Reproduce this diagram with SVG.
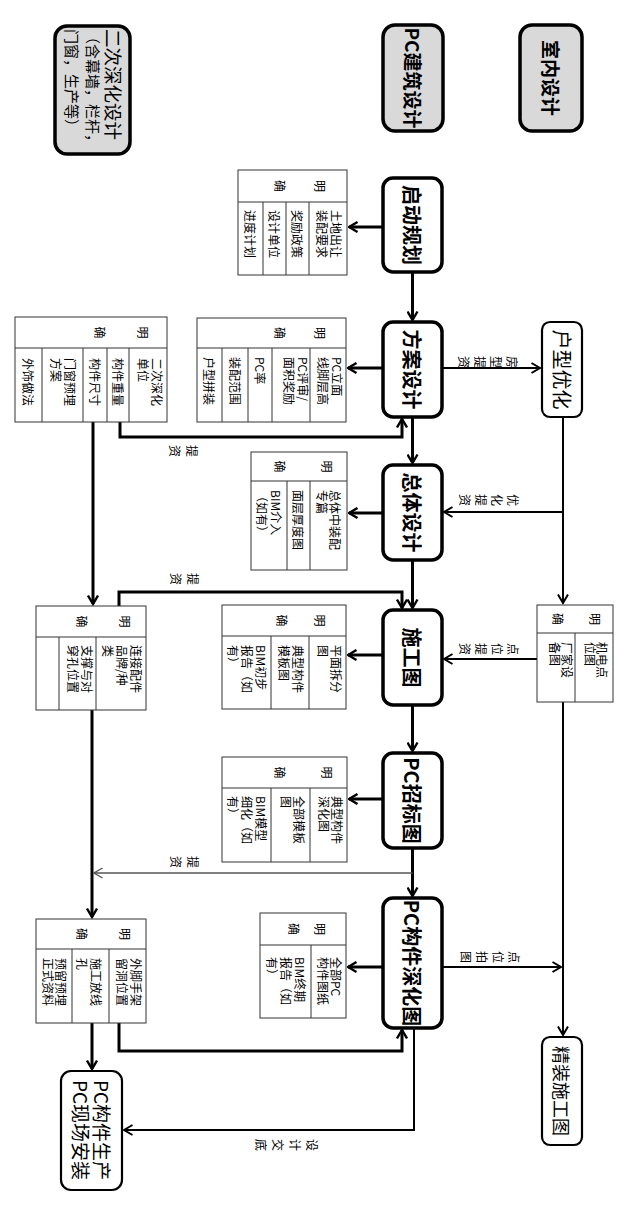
<svg xmlns="http://www.w3.org/2000/svg" width="627" height="1209" viewBox="0 0 627 1209">
<style>
text{font-family:"Noto Sans CJK SC","Noto Sans",sans-serif;dominant-baseline:central;fill:#000}
.box{fill:#fff;stroke:#000;stroke-width:3.5}
.gbox{fill:#d9d9d9;stroke:#000;stroke-width:3.5}
.tbox{fill:#fff;stroke:#000;stroke-width:2.2}
.tbl{fill:#fff;stroke:#333;stroke-width:1}
.tl{stroke:#333;stroke-width:1;fill:none}
.c{stroke:#000;stroke-width:3;fill:none}
.c2{stroke:#000;stroke-width:2;fill:none}
.c1{stroke:#555;stroke-width:1.3;fill:none}
.mb{font-size:20px;font-weight:bold;text-anchor:middle}
.hb{font-size:19px;font-weight:bold;text-anchor:middle}
.nb{font-size:19px;text-anchor:middle}
.t{font-size:12px}
.h{font-size:12px;text-anchor:middle}
.lb{font-size:12px;text-anchor:middle}
</style>
<defs>
<marker id="a" viewBox="0 0 12 12" refX="10.5" refY="6" markerWidth="12" markerHeight="12" markerUnits="userSpaceOnUse" orient="auto"><path d="M2,1 L10.5,6 L2,11" fill="none" stroke="#000" stroke-width="2.4"/></marker>
<marker id="a2" viewBox="0 0 12 12" refX="10.5" refY="6" markerWidth="12" markerHeight="12" markerUnits="userSpaceOnUse" orient="auto"><path d="M2,1 L10.5,6 L2,11" fill="none" stroke="#000" stroke-width="2"/></marker>
<marker id="a1" viewBox="0 0 12 12" refX="10.5" refY="6" markerWidth="12" markerHeight="12" markerUnits="userSpaceOnUse" orient="auto"><path d="M2,1 L10.5,6 L2,11" fill="none" stroke="#555" stroke-width="1.4"/></marker>
</defs>

<g id="connectors">
<path class="c" d="M412.5,272 V320" marker-end="url(#a)"/>
<path class="c" d="M412.5,417 V463" marker-end="url(#a)"/>
<path class="c" d="M412.5,560 V608" marker-end="url(#a)"/>
<path class="c" d="M412.5,705 V751" marker-end="url(#a)"/>
<path class="c" d="M412.5,848 V896" marker-end="url(#a)"/>
<path class="c2" d="M414,1028 V1130 H124" marker-end="url(#a2)"/>
<path class="c" d="M383,227 H349" marker-end="url(#a)"/>
<path class="c" d="M383,368 H348" marker-end="url(#a)"/>
<path class="c" d="M383,513 H349" marker-end="url(#a)"/>
<path class="c" d="M383,655 H348" marker-end="url(#a)"/>
<path class="c" d="M383,799 H349" marker-end="url(#a)"/>
<path class="c" d="M383,967 H348" marker-end="url(#a)"/>
<path class="c2" d="M442,368 H540" marker-end="url(#a2)"/>
<path class="c2" d="M563,417 V603" marker-end="url(#a2)"/>
<path class="c2" d="M563,512 H444" marker-end="url(#a2)"/>
<path class="c2" d="M537,659 H444" marker-end="url(#a2)"/>
<path class="c2" d="M563,702 V1035" marker-end="url(#a2)"/>
<path class="c2" d="M442,967 H561" marker-end="url(#a2)"/>
<path class="c" d="M120,422 V437 H402 V419" marker-end="url(#a)"/>
<path class="c" d="M93,422 V604" marker-end="url(#a)"/>
<path class="c" d="M119,606 V592 H402 V608" marker-end="url(#a)"/>
<path class="c" d="M92,710 V917" marker-end="url(#a)"/>
<path class="c1" d="M412.5,873 H94" marker-end="url(#a1)"/>
<path class="c" d="M119,1023 V1051 H402 V1030" marker-end="url(#a)"/>
<path class="c" d="M92,1023 V1069" marker-end="url(#a)"/>
<text class="lb" transform="translate(513,362) rotate(90)"><tspan x="0" dy="0">房</tspan><tspan x="0" dy="16">型</tspan><tspan x="0" dy="16">提</tspan><tspan x="0" dy="16">资</tspan></text>
<text class="lb" transform="translate(514,500) rotate(90)"><tspan x="0" dy="0">优</tspan><tspan x="0" dy="16">化</tspan><tspan x="0" dy="16">提</tspan><tspan x="0" dy="16">资</tspan></text>
<text class="lb" transform="translate(514,649) rotate(90)"><tspan x="0" dy="0">点</tspan><tspan x="0" dy="16">位</tspan><tspan x="0" dy="16">提</tspan><tspan x="0" dy="16">资</tspan></text>
<text class="lb" transform="translate(515,957) rotate(90)"><tspan x="0" dy="0">点</tspan><tspan x="0" dy="16">位</tspan><tspan x="0" dy="16">拍</tspan><tspan x="0" dy="16">图</tspan></text>
<text class="lb" transform="translate(313,1145) rotate(90)"><tspan x="0" dy="0">设</tspan><tspan x="0" dy="17">计</tspan><tspan x="0" dy="17">交</tspan><tspan x="0" dy="17">底</tspan></text>
<text class="lb" transform="translate(193,451) rotate(90)"><tspan x="0" dy="0">提</tspan><tspan x="0" dy="17">资</tspan></text>
<text class="lb" transform="translate(194,579) rotate(90)"><tspan x="0" dy="0">提</tspan><tspan x="0" dy="17">资</tspan></text>
<text class="lb" transform="translate(194,862) rotate(90)"><tspan x="0" dy="0">提</tspan><tspan x="0" dy="17">资</tspan></text>
</g>

<g id="n-erci">
<rect class="gbox" x="55" y="26" width="75" height="128" rx="12"/>
<text transform="translate(114,29) rotate(90)" style="font-size:18.5px">二次深化设计</text>
<text transform="translate(93,29) rotate(90)" style="font-size:15px">（含幕墙，栏杆，</text>
<text transform="translate(72,29) rotate(90)" style="font-size:15px">门窗，生产等）</text>
</g>
<g id="n-pcjz">
<rect class="gbox" x="383" y="25" width="60" height="106" rx="12"/>
<text class="hb" transform="translate(413,78) rotate(90)">PC建筑设计</text>
</g>
<g id="n-snsj">
<rect class="gbox" x="520" y="25" width="62" height="106" rx="12"/>
<text class="hb" transform="translate(551,78) rotate(90)">室内设计</text>
</g>

<g id="n-qdgh">
<rect class="box" x="383" y="178" width="59" height="94" rx="10"/>
<text class="mb" transform="translate(412.5,225) rotate(90)">启动规划</text>
</g>
<g id="n-fasj">
<rect class="box" x="383" y="322" width="59" height="95" rx="10"/>
<text class="mb" transform="translate(412.5,369.5) rotate(90)">方案设计</text>
</g>
<g id="n-ztsj">
<rect class="box" x="383" y="465" width="59" height="95" rx="10"/>
<text class="mb" transform="translate(412.5,512.5) rotate(90)">总体设计</text>
</g>
<g id="n-sgt">
<rect class="box" x="383" y="610" width="59" height="95" rx="10"/>
<text class="mb" transform="translate(412.5,657.5) rotate(90)">施工图</text>
</g>
<g id="n-pczb">
<rect class="box" x="383" y="753" width="59" height="95" rx="10"/>
<text class="mb" transform="translate(412.5,800.5) rotate(90)">PC招标图</text>
</g>
<g id="n-pcgj">
<rect class="box" x="383" y="898" width="59" height="130" rx="10"/>
<text class="mb" transform="translate(412.5,963) rotate(90)">PC构件深化图</text>
</g>

<g id="n-hxyh">
<rect class="tbox" x="542" y="322" width="40" height="95" rx="8"/>
<text class="nb" transform="translate(562,369.5) rotate(90)" style="font-size:20px">户型优化</text>
</g>
<g id="n-jzsgt">
<rect class="tbox" x="542" y="1037" width="40" height="108" rx="8"/>
<text class="nb" transform="translate(562,1091) rotate(90)" style="font-size:18px">精装施工图</text>
</g>
<g id="n-pcsc">
<rect class="tbox" x="61" y="1071" width="61" height="119" rx="10"/>
<text class="nb" transform="translate(102,1130) rotate(90)">PC构件生产</text>
<text class="nb" transform="translate(81,1130) rotate(90)">PC现场安装</text>
</g>

<g id="t-qdgh">
<rect class="tbl" x="238" y="170" width="109" height="105"/>
<path class="tl" d="M238,202 H347 M309,202 V275 M286,202 V275 M263,202 V275"/>
<text class="h" transform="translate(320,186) rotate(90)">明</text>
<text class="h" transform="translate(280,186) rotate(90)">确</text>
<text class="t" transform="translate(337,210) rotate(90)"><tspan x="0" dy="0">土地出让</tspan><tspan x="0" dy="14">装配要求</tspan></text>
<text class="t" transform="translate(297.5,210) rotate(90)">奖励政策</text>
<text class="t" transform="translate(274.5,210) rotate(90)">设计单位</text>
<text class="t" transform="translate(250.5,210) rotate(90)">进度计划</text>
</g>

<g id="t-fasj">
<rect class="tbl" x="197" y="318" width="149" height="104"/>
<path class="tl" d="M197,348 H346 M310,348 V422 M272,348 V422 M248,348 V422 M222,348 V422"/>
<text class="h" transform="translate(320,333) rotate(90)">明</text>
<text class="h" transform="translate(280,333) rotate(90)">确</text>
<text class="t" transform="translate(338,357) rotate(90)"><tspan x="0" dy="0">PC立面</tspan><tspan x="0" dy="14">线脚层高</tspan></text>
<text class="t" transform="translate(304,357) rotate(90)"><tspan x="0" dy="0">PC评审/</tspan><tspan x="0" dy="14">面积奖励</tspan></text>
<text class="t" transform="translate(260,357) rotate(90)">PC率</text>
<text class="t" transform="translate(235,357) rotate(90)">装配范围</text>
<text class="t" transform="translate(209.5,357) rotate(90)">户型拼装</text>
</g>

<g id="t-ztsj">
<rect class="tbl" x="251" y="452" width="96" height="118"/>
<path class="tl" d="M251,481 H347 M310,481 V570 M287,481 V570"/>
<text class="h" transform="translate(327,466.5) rotate(90)">明</text>
<text class="h" transform="translate(280,466.5) rotate(90)">确</text>
<text class="t" transform="translate(336,490) rotate(90)"><tspan x="0" dy="0">总体中装配</tspan><tspan x="0" dy="13">专篇</tspan></text>
<text class="t" transform="translate(298.5,490) rotate(90)">面层厚度图</text>
<text class="t" transform="translate(277,490) rotate(90)"><tspan x="0" dy="0">BIM介入</tspan><tspan x="0" dy="14">（如有）</tspan></text>
</g>

<g id="t-sgt">
<rect class="tbl" x="222" y="605" width="124" height="104"/>
<path class="tl" d="M222,636 H346 M309,636 V709 M271,636 V709"/>
<text class="h" transform="translate(320,620.5) rotate(90)">明</text>
<text class="h" transform="translate(282,620.5) rotate(90)">确</text>
<text class="t" transform="translate(337,645) rotate(90)"><tspan x="0" dy="0">平面拆分</tspan><tspan x="0" dy="13">图</tspan></text>
<text class="t" transform="translate(299,645) rotate(90)"><tspan x="0" dy="0">典型构件</tspan><tspan x="0" dy="14">模板图</tspan></text>
<text class="t" transform="translate(262,645) rotate(90)"><tspan x="0" dy="0">BIM初步</tspan><tspan x="0" dy="14">报告（如</tspan><tspan x="0" dy="14">有）</tspan></text>
</g>

<g id="t-pczb">
<rect class="tbl" x="222" y="757" width="125" height="105"/>
<path class="tl" d="M222,788 H347 M310,788 V862 M271,788 V862"/>
<text class="h" transform="translate(327,772.5) rotate(90)">明</text>
<text class="h" transform="translate(280,772.5) rotate(90)">确</text>
<text class="t" transform="translate(338,796) rotate(90)"><tspan x="0" dy="0">典型构件</tspan><tspan x="0" dy="13">深化图</tspan></text>
<text class="t" transform="translate(300,796) rotate(90)"><tspan x="0" dy="0">全部模板</tspan><tspan x="0" dy="13">图</tspan></text>
<text class="t" transform="translate(262,796) rotate(90)"><tspan x="0" dy="0">BIM模型</tspan><tspan x="0" dy="14">细化（如</tspan><tspan x="0" dy="14">有）</tspan></text>
</g>

<g id="t-pcgj">
<rect class="tbl" x="260" y="913" width="86" height="105"/>
<path class="tl" d="M260,945 H346 M311,945 V1018"/>
<text class="h" transform="translate(320,929) rotate(90)">明</text>
<text class="h" transform="translate(294,929) rotate(90)">确</text>
<text class="t" transform="translate(337,957) rotate(90)"><tspan x="0" dy="0">全部PC</tspan><tspan x="0" dy="13">构件图纸</tspan></text>
<text class="t" transform="translate(301,957) rotate(90)"><tspan x="0" dy="0">BIM终期</tspan><tspan x="0" dy="14">报告（如</tspan><tspan x="0" dy="14">有）</tspan></text>
</g>

<g id="t-l1">
<rect class="tbl" x="15" y="317" width="152" height="105"/>
<path class="tl" d="M15,348 H167 M129,348 V422 M107,348 V422 M83,348 V422 M42,348 V422"/>
<text class="h" transform="translate(143,332.5) rotate(90)">明</text>
<text class="h" transform="translate(100,332.5) rotate(90)">确</text>
<text class="t" transform="translate(158,358) rotate(90)"><tspan x="0" dy="0">二次深化</tspan><tspan x="0" dy="14">单位</tspan></text>
<text class="t" transform="translate(118,358) rotate(90)">构件重量</text>
<text class="t" transform="translate(95,358) rotate(90)">构件尺寸</text>
<text class="t" transform="translate(71,358) rotate(90)"><tspan x="0" dy="0">门窗预埋</tspan><tspan x="0" dy="14">方案</tspan></text>
<text class="t" transform="translate(28.5,358) rotate(90)">外饰做法</text>
</g>

<g id="t-l2">
<rect class="tbl" x="36" y="606" width="110" height="104"/>
<path class="tl" d="M36,637 H146 M96,637 V710 M59,637 V710"/>
<text class="h" transform="translate(125,621.5) rotate(90)">明</text>
<text class="h" transform="translate(82,621.5) rotate(90)">确</text>
<text class="t" transform="translate(137,645) rotate(90)"><tspan x="0" dy="0">连接配件</tspan><tspan x="0" dy="14">品牌/种</tspan><tspan x="0" dy="14">类</tspan></text>
<text class="t" transform="translate(88,645) rotate(90)"><tspan x="0" dy="0">支撑与对</tspan><tspan x="0" dy="14">穿孔位置</tspan></text>
</g>

<g id="t-l3">
<rect class="tbl" x="36" y="919" width="110" height="104"/>
<path class="tl" d="M36,949 H146 M109,949 V1023 M72,949 V1023"/>
<text class="h" transform="translate(125,934) rotate(90)">明</text>
<text class="h" transform="translate(82,934) rotate(90)">确</text>
<text class="t" transform="translate(137,958) rotate(90)"><tspan x="0" dy="0">外脚手架</tspan><tspan x="0" dy="14">留洞位置</tspan></text>
<text class="t" transform="translate(97,958) rotate(90)"><tspan x="0" dy="0">施工放线</tspan><tspan x="0" dy="14">孔</tspan></text>
<text class="t" transform="translate(62,958) rotate(90)"><tspan x="0" dy="0">预留预埋</tspan><tspan x="0" dy="13">正式资料</tspan></text>
</g>

<g id="t-r1">
<rect class="tbl" x="537" y="605" width="76" height="97"/>
<path class="tl" d="M537,633 H613 M575,633 V702"/>
<text class="h" transform="translate(595,619) rotate(90)">明</text>
<text class="h" transform="translate(558,619) rotate(90)">确</text>
<text class="t" transform="translate(603,642) rotate(90)"><tspan x="0" dy="0">机电点</tspan><tspan x="0" dy="12">位图</tspan></text>
<text class="t" transform="translate(568,642) rotate(90)"><tspan x="0" dy="0">厂家设</tspan><tspan x="0" dy="12">备图</tspan></text>
</g>
</svg>
